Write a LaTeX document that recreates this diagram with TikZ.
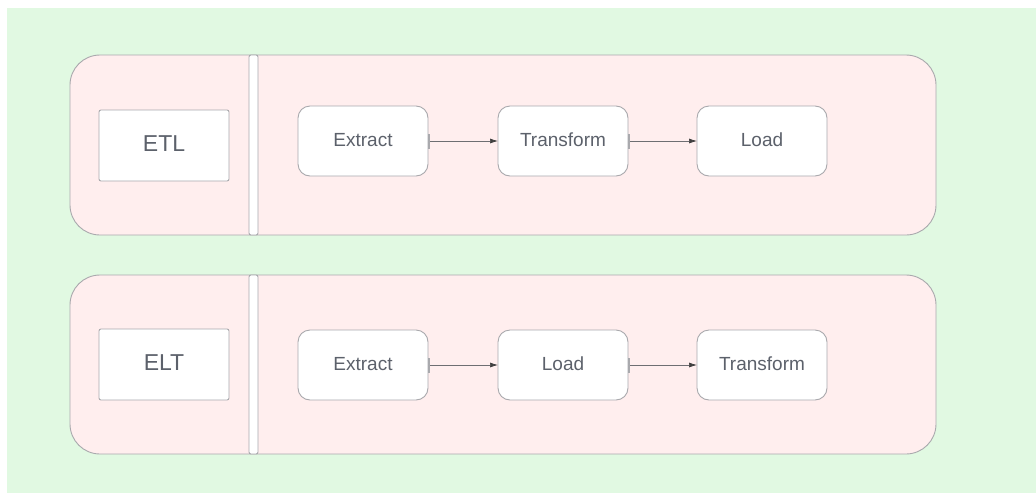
\documentclass[tikz,border=0pt]{standalone}
\usepackage{fontspec}
\setmainfont{Liberation Sans}
\usetikzlibrary{arrows.meta}
\definecolor{bggreen}{HTML}{E1F9E2}
\definecolor{lanepink}{HTML}{FFEEEE}
\definecolor{edgegray}{HTML}{A9A9AD}
\definecolor{txtgray}{HTML}{5C616B}
\definecolor{arrgray}{HTML}{6E6E72}
\tikzset{
  lane/.style={draw=edgegray, fill=lanepink, line width=0.9pt, rounded corners=30pt,
    minimum width=866pt, inner sep=0pt, outer sep=0pt},
  divider/.style={draw=edgegray, fill=white, line width=0.9pt, rounded corners=2pt,
    minimum width=9pt, inner sep=0pt, outer sep=0pt},
  titlebox/.style={draw=edgegray, fill=white, line width=0.9pt, rounded corners=2pt,
    minimum width=130pt, minimum height=71pt, inner sep=0pt, outer sep=0pt,
    text=txtgray, font=\fontsize{23}{27}\selectfont},
  procbox/.style={draw=edgegray, fill=white, line width=0.9pt, rounded corners=12pt,
    minimum width=130pt, minimum height=70pt, inner sep=0pt, outer sep=0pt,
    text=txtgray, font=\fontsize{19}{23}\selectfont},
  flow/.style={draw=arrgray, line width=0.7pt,
    {Bar[width=15pt, line width=1.6pt, color=edgegray]}-{Latex[length=8pt, width=5pt, color=black!75]}}
}
\begin{document}
\begin{tikzpicture}[x=1pt, y=-1pt]
\useasboundingbox (0,0) rectangle (1036,493);
\fill[bggreen] (7,8) rectangle (1036,493);

% top lane
\node[lane, minimum height=180pt] (laneA) at (503,145) {};
\node[divider, minimum height=180pt] (divA) at (253.5,145) {};
\node[titlebox] (etl) at (164,145.5) {\raisebox{3pt}{ETL}};
\node[procbox] (a1) at (363,141) {\raisebox{2pt}{Extract}};
\node[procbox] (a2) at (563,141) {\raisebox{2pt}{Transform}};
\node[procbox] (a3) at (762,141) {\raisebox{2pt}{Load}};
\draw[flow] (a1.east) -- (a2.west);
\draw[flow] (a2.east) -- (a3.west);

% bottom lane
\node[lane, minimum height=179pt] (laneB) at (503,364.5) {};
\node[divider, minimum height=179pt] (divB) at (253.5,364.5) {};
\node[titlebox] (elt) at (164,364.5) {\raisebox{3pt}{ELT}};
\node[procbox] (b1) at (363,365) {\raisebox{2pt}{Extract}};
\node[procbox] (b2) at (563,365) {\raisebox{2pt}{Load}};
\node[procbox] (b3) at (762,365) {\raisebox{2pt}{Transform}};
\draw[flow] (b1.east) -- (b2.west);
\draw[flow] (b2.east) -- (b3.west);
\end{tikzpicture}
\end{document}
